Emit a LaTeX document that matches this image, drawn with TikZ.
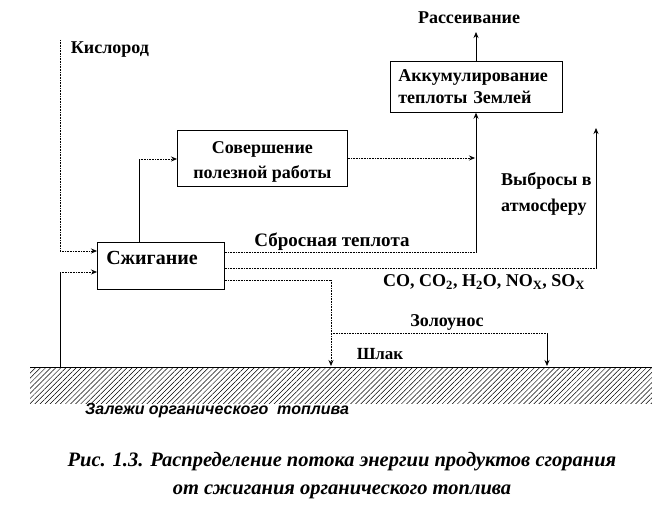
\documentclass[tikz,border=0pt]{standalone}
\usepackage{fontspec}
\setmainfont{Liberation Serif}
\newfontfamily\zalfont{Liberation Sans}
\usetikzlibrary{arrows.meta,patterns.meta}

\begin{document}
\begin{tikzpicture}[x=1pt,y=-1pt,
  box/.style={draw,line width=0.7pt,inner sep=0pt},
  lbl/.style={font=\fontsize{18}{24}\selectfont\bfseries,inner sep=0pt},
  flow/.style={line width=0.7pt},
  dots/.style={line width=0.7pt,dash pattern=on 0.8pt off 0.8pt},
  arr/.style={-{Stealth[length=6pt,width=5pt]}}]
\useasboundingbox (0,0) rectangle (652,505);

% boxes
\node[box,minimum width=127,minimum height=47,anchor=north west] (burn) at (97,242) {};
\node[lbl,font=\fontsize{20}{24}\selectfont\bfseries] (burnlbl) at (152,258) {Сжигание};
\node[box,minimum width=170,minimum height=56,anchor=north west,align=center,
  font=\fontsize{18}{25}\selectfont\bfseries] (work) at (177,130) {\rule{0pt}{20pt}Совершение\\полезной работы};
\node[box,minimum width=172,minimum height=51,anchor=north west,align=left,
  text width=156,inner xsep=8pt,font=\fontsize{18}{22}\selectfont\bfseries] (accum) at (390,61)
  {Аккумулирование\\теплоты Землей};

% ground
\fill[pattern={Lines[angle=45,distance=3.6pt,line width=0.5pt]}] (30,367) rectangle (652,403);
\draw[line width=0.7pt] (30,367) coordinate (gl) -- (652,367) coordinate (gr);

% labels
\node[lbl] (oxy) at (110,50) {Кислород};
\node[lbl] (diss) at (469,18) {Рассеивание};
\node[lbl,font=\fontsize{19}{24}\selectfont\bfseries] (waste) at (332,242) {Сбросная теплота};
\node[lbl,align=left,anchor=west,font=\fontsize{18}{26}\selectfont\bfseries] (emis) at (501,194) {Выбросы в\\атмосферу};
\node[lbl,anchor=west] (gases) at (383,282) {CO, CO\textsubscript{2}, H\textsubscript{2}O, NO\textsubscript{X}, SO\textsubscript{X}};
\node[lbl] (ash) at (447,322) {Золоунос};
\node[lbl,font=\fontsize{17}{20}\selectfont\bfseries] (slag) at (380,354) {Шлак};
\node[inner sep=0pt,anchor=west,font=\zalfont\fontsize{16}{18}\selectfont\bfseries\itshape] (depos) at (85,411)
  {Залежи органического\ \ топлива};
\node[inner sep=0pt,align=center,font=\fontsize{20.5}{28}\selectfont\bfseries\itshape] (cap) at (342,476)
  {Рис. 1.3. Распределение потока энергии продуктов сгорания\\от сжигания органического топлива};

% corner points
\coordinate (o2top) at (60,40);
\coordinate (fuel) at (60,367);
\coordinate (fuelup) at (60,272);
\coordinate (burnup) at (139,159);
\coordinate (heatup) at (476,252);
\coordinate (heatin) at (475,158);
\coordinate (emisup) at (596,268);
\coordinate (emistop) at (596,128);
\coordinate (slagup) at (331,280);
\coordinate (slagdn) at (331,366);
\coordinate (ashl) at (331,333);
\coordinate (ashr) at (547,333);
\coordinate (ashdn) at (547,366);
\coordinate (disstop) at (476,32);

% flows
\draw[dots,arr] (o2top) |- (burn.west|-0,251);
\draw[flow] (fuel) -- (fuelup);
\draw[dots,arr] (fuelup) -- (burn.west|-fuelup);
\draw[flow] (burn.north-|burnup) -- (burnup);
\draw[dots,arr] (burnup) -- (work.west|-burnup);
\draw[dots,arr] (work.east|-heatin) -- (heatin);
\draw[dots] (burn.east|-heatup) -- (heatup);
\draw[flow,arr] (heatup) -- (accum.south-|heatup);
\draw[flow,arr] (accum.north-|disstop) -- (disstop);
\draw[dots] (burn.east|-emisup) -- (emisup);
\draw[flow,arr] (emisup) -- (emistop);
\draw[dots] (burn.east|-slagup) -- (slagup);
\draw[dots,arr] (slagup) -- (slagdn);
\draw[dots] (ashl) -- (ashr);
\draw[flow,arr] (ashr) -- (ashdn);
\end{tikzpicture}
\end{document}
